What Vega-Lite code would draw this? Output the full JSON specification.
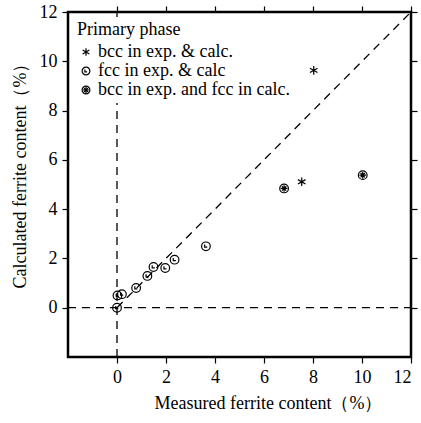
{
  "$schema": "https://vega.github.io/schema/vega-lite/v6.json",
  "autosize": "none",
  "width": 343,
  "height": 345,
  "padding": {"left": 68, "top": 12, "right": 10, "bottom": 66},
  "background": "white",
  "config": {
    "font": "'Liberation Serif', 'DejaVu Serif', serif",
    "view": {"stroke": "black", "strokeWidth": 2.5},
    "axis": {"grid": false, "domain": false, "tickColor": "black", "tickWidth": 1.2, "labelColor": "black", "titleColor": "black", "labelFont": "'Liberation Serif', 'DejaVu Serif', serif", "titleFont": "'Liberation Serif', 'DejaVu Serif', serif", "labelFontSize": 18, "titleFontSize": 18, "titleFontWeight": "normal", "tickSize": 6}
  },
  "resolve": {"axis": {"x": "independent", "y": "independent"}},
  "layer": [
    {
      "data": {"values": [
        {"x": 0, "y": -2, "x2": 0, "y2": 12},
        {"x": -2, "y": 0, "x2": 12, "y2": 0},
        {"x": 0, "y": 0, "x2": 12, "y2": 12}
      ]},
      "mark": {"type": "rule", "strokeDash": [8, 6], "stroke": "black", "strokeWidth": 1.3},
      "encoding": {
        "x": {"field": "x", "type": "quantitative", "scale": {"domain": [-2, 12], "nice": false, "zero": false}, "axis": {"orient": "bottom", "values": [0, 2, 4, 6, 8, 10, 12], "title": "Measured ferrite content（%）", "titlePadding": 8, "labelPadding": 5, "titleX": 200}},
        "y": {"field": "y", "type": "quantitative", "scale": {"domain": [-2, 12], "nice": false, "zero": false}, "axis": {"orient": "left", "values": [0, 2, 4, 6, 8, 10, 12], "title": "Calculated ferrite content（%）", "titlePadding": 10, "labelPadding": 5, "titleY": 159}},
        "x2": {"field": "x2"},
        "y2": {"field": "y2"}
      }
    },
    {
      "data": {"values": [
        {"measured": 0.0, "calculated": 0.0, "phase": "fcc in exp. & calc"},
        {"measured": 0.02, "calculated": 0.5, "phase": "fcc in exp. & calc"},
        {"measured": 0.2, "calculated": 0.55, "phase": "fcc in exp. & calc"},
        {"measured": 0.78, "calculated": 0.8, "phase": "fcc in exp. & calc"},
        {"measured": 1.24, "calculated": 1.29, "phase": "fcc in exp. & calc"},
        {"measured": 1.49, "calculated": 1.65, "phase": "fcc in exp. & calc"},
        {"measured": 1.97, "calculated": 1.61, "phase": "fcc in exp. & calc"},
        {"measured": 2.35, "calculated": 1.95, "phase": "fcc in exp. & calc"},
        {"measured": 3.63, "calculated": 2.49, "phase": "fcc in exp. & calc"},
        {"measured": 7.54, "calculated": 5.11, "phase": "bcc in exp. & calc."},
        {"measured": 8.03, "calculated": 9.63, "phase": "bcc in exp. & calc."},
        {"measured": 6.82, "calculated": 4.84, "phase": "bcc in exp. and fcc in calc."},
        {"measured": 10.03, "calculated": 5.38, "phase": "bcc in exp. and fcc in calc."}
      ]},
      "mark": {"type": "point", "filled": false, "stroke": "black", "strokeWidth": 1.2, "size": 75, "opacity": 1},
      "encoding": {
        "x": {"field": "measured", "type": "quantitative", "scale": {"domain": [-2, 12], "nice": false, "zero": false}, "axis": {"orient": "top", "values": [0, 2, 4, 6, 8, 10, 12], "labels": false, "title": null}},
        "y": {"field": "calculated", "type": "quantitative", "scale": {"domain": [-2, 12], "nice": false, "zero": false}, "axis": {"orient": "right", "values": [0, 2, 4, 6, 8, 10, 12], "labels": false, "title": null}},
        "shape": {
          "field": "phase", "type": "nominal",
          "scale": {
            "domain": ["bcc in exp. & calc.", "fcc in exp. & calc", "bcc in exp. and fcc in calc."],
            "range": [
              "M0,-1L0,1M-0.87,-0.5L0.87,0.5M-0.87,0.5L0.87,-0.5",
              "M-1,0A1,1 0 1,1 1,0A1,1 0 1,1 -1,0M-0.3,-0.4L-0.3,0.2L0.3,0.2",
              "M-1,0A1,1 0 1,1 1,0A1,1 0 1,1 -1,0M-0.75,0L0.75,0M0,-0.75L0,0.75M-0.5,-0.5L0.5,0.5M-0.5,0.5L0.5,-0.5"
            ]
          },
          "legend": {"title": "Primary phase", "orient": "top-left", "offset": 5, "padding": 4, "fillColor": "white", "titleFont": "'Liberation Serif', 'DejaVu Serif', serif", "titleFontSize": 18, "titleFontWeight": "normal", "titleColor": "black", "labelFont": "'Liberation Serif', 'DejaVu Serif', serif", "labelFontSize": 18, "labelColor": "black", "labelOffset": 3, "labelLimit": 320, "symbolSize": 60, "symbolStrokeColor": "black", "symbolStrokeWidth": 1.2, "rowPadding": 1, "titlePadding": 4}
        }
      }
    }
  ]
}
